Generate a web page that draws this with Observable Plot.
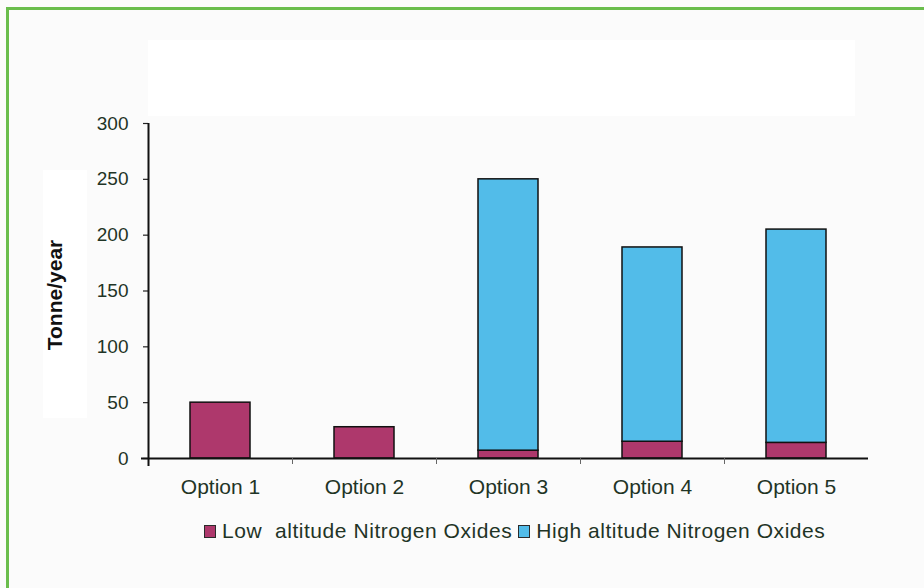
<!DOCTYPE html>
<html>
<head>
<meta charset="utf-8">
<script src="https://cdn.jsdelivr.net/npm/d3@7"></script>
<script src="https://cdn.jsdelivr.net/npm/@observablehq/plot@0.6"></script>
<style>
  html, body { margin: 0; padding: 0; background: #fbfbfb; }
  #wrap { position: relative; width: 924px; height: 588px; overflow: hidden; background: #fbfbfb;
          font-family: "Liberation Sans", Arial, sans-serif; }
  #border { position: absolute; left: 6px; top: 7px; width: 960px; height: 620px;
            border-left: 3px solid #6abd4c; border-top: 3px solid #6abd4c; }
  .blank { position: absolute; background: #ffffff; }
  #chart { position: absolute; left: 0; top: 0; }
  #legend { position: absolute; top: 519px; left: 204px; display: flex; align-items: center;
            font-size: 21px; letter-spacing: 0.55px; color: #1f3426; white-space: pre; }
  #legend .item { display: flex; align-items: center; margin-right: 6px; }
  #legend .sw { width: 10px; height: 11px; border: 1px solid #2b2b2b; margin-right: 6px; }
</style>
</head>
<body>
<div id="wrap">
  <div id="border"></div>
  <div class="blank" style="left:148px;top:40px;width:707px;height:76px;"></div>
  <div class="blank" style="left:43px;top:170px;width:44px;height:248px;"></div>
  <div id="chart"></div>
  <div id="legend"></div>
</div>
<script>
const categories = ["Option 1", "Option 2", "Option 3", "Option 4", "Option 5"];
const lowAltitude = [50, 28, 7, 15, 14];
const highAltitude = [0, 0, 243, 174, 191];
const seriesNames = ["Low  altitude Nitrogen Oxides", "High altitude Nitrogen Oxides"];
const seriesColors = ["#ae386c", "#52bce9"];
const yTicks = [0, 50, 100, 150, 200, 250, 300];
const yLabel = "Tonne/year";

const rows = [];
categories.forEach((c, i) => {
  rows.push({option: c, series: seriesNames[0], value: lowAltitude[i]});
  rows.push({option: c, series: seriesNames[1], value: highAltitude[i]});
});

const W = 924, H = 588;
const mL = 148, mR = 56, mT = 123, mB = 130;
const step = (W - mL - mR) / categories.length;
const textColor = "#1f3426";

const chart = Plot.plot({
  width: W,
  height: H,
  marginLeft: mL,
  marginRight: mR,
  marginTop: mT,
  marginBottom: mB,
  style: {background: "transparent", fontFamily: "'Liberation Sans', Arial, sans-serif", fontSize: "19px", color: textColor},
  x: {domain: categories, paddingInner: 0.583, paddingOuter: 0.2915, label: null},
  y: {domain: [0, 300], label: null},
  color: {domain: seriesNames, range: seriesColors},
  marks: [
    Plot.barY(rows.filter(d => d.value > 0), Plot.stackY({
      x: "option", y: "value", fill: "series", order: seriesNames,
      stroke: "#111", strokeWidth: 1.5
    })),
    Plot.axisY({ticks: yTicks, tickSize: 5, tickPadding: 15, stroke: "#222", strokeWidth: 1.2, fill: textColor, label: null}),
    Plot.axisX({tickSize: 0, tickPadding: 21, fill: textColor, fontSize: 21, label: null}),
    Plot.ruleY([0], {insetLeft: -7, stroke: "#111", strokeWidth: 2}),
    Plot.ruleX([categories[0]], {x: d => d, dx: -step / 2, y1: 300, y2: 0, insetBottom: -8, stroke: "#111", strokeWidth: 2}),
    Plot.ruleX(categories.slice(1), {x: d => d, dx: -step / 2, y1: 0, y2: 0, insetBottom: -6, stroke: "#666", strokeWidth: 1}),
    Plot.text([yLabel], {frameAnchor: "left", textAnchor: "middle", rotate: -90, dx: -93, dy: 4, fontWeight: "bold", fontSize: 21, fill: "#111"})
  ]
});
document.getElementById("chart").appendChild(chart);

const legend = document.getElementById("legend");
seriesNames.forEach((name, i) => {
  const item = document.createElement("div");
  item.className = "item";
  const sw = document.createElement("div");
  sw.className = "sw";
  sw.style.background = seriesColors[i];
  const t = document.createElement("span");
  t.textContent = name;
  item.appendChild(sw);
  item.appendChild(t);
  legend.appendChild(item);
});
</script>
</body>
</html>
